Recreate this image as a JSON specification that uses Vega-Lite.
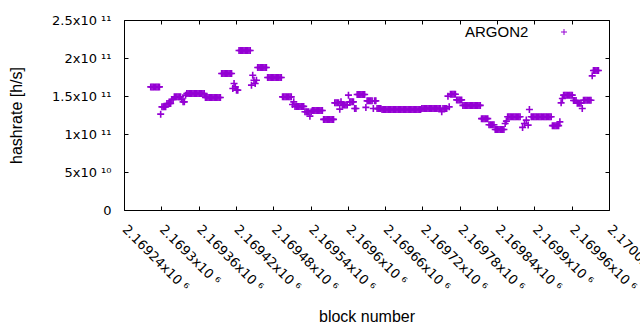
{
"$schema":"https://vega.github.io/schema/vega-lite/v6.json",
"width":485,"height":190,"autosize":"none",
"padding":{"left":124,"top":20,"right":31,"bottom":120},
"background":"white",
"config":{"font":"Liberation Sans","view":{"stroke":"black","strokeWidth":1},
"axis":{"grid":false,"domain":false,"tickColor":"black","tickSize":-4,"labelColor":"black","titleColor":"black","labelFont":"DejaVu Sans","labelFontSize":13,"titleFontSize":16,"titleFontWeight":"normal","labelOverlap":false,"labelBound":false,"labelFlush":false}},
"data":{"values":[
{"block":2169283,"hashrate":1.62e11},{"block":2169285,"hashrate":1.62e11},{"block":2169287,"hashrate":1.62e11},{"block":2169289,"hashrate":1.62e11},{"block":2169291,"hashrate":1.62e11},{"block":2169293,"hashrate":1.62e11},{"block":2169295,"hashrate":1.62e11},{"block":2169297,"hashrate":1.62e11},
{"block":2169299,"hashrate":1.261e11},
{"block":2169301,"hashrate":1.357e11},{"block":2169303,"hashrate":1.357e11},{"block":2169305,"hashrate":1.357e11},{"block":2169307,"hashrate":1.357e11},
{"block":2169309,"hashrate":1.402e11},{"block":2169311,"hashrate":1.402e11},{"block":2169313,"hashrate":1.402e11},{"block":2169315,"hashrate":1.402e11},
{"block":2169317,"hashrate":1.455e11},{"block":2169319,"hashrate":1.455e11},
{"block":2169321,"hashrate":1.489e11},{"block":2169323,"hashrate":1.489e11},{"block":2169325,"hashrate":1.489e11},{"block":2169327,"hashrate":1.489e11},{"block":2169329,"hashrate":1.489e11},{"block":2169331,"hashrate":1.489e11},
{"block":2169333,"hashrate":1.455e11},{"block":2169335,"hashrate":1.423e11},{"block":2169337,"hashrate":1.423e11},
{"block":2169339,"hashrate":1.511e11},{"block":2169341,"hashrate":1.533e11},
{"block":2169343,"hashrate":1.533e11},{"block":2169345,"hashrate":1.533e11},{"block":2169347,"hashrate":1.533e11},{"block":2169349,"hashrate":1.533e11},{"block":2169351,"hashrate":1.533e11},{"block":2169353,"hashrate":1.533e11},{"block":2169355,"hashrate":1.533e11},{"block":2169357,"hashrate":1.533e11},{"block":2169359,"hashrate":1.533e11},{"block":2169361,"hashrate":1.533e11},{"block":2169363,"hashrate":1.533e11},{"block":2169365,"hashrate":1.533e11},{"block":2169367,"hashrate":1.533e11},{"block":2169369,"hashrate":1.533e11},
{"block":2169371,"hashrate":1.481e11},{"block":2169373,"hashrate":1.481e11},{"block":2169375,"hashrate":1.481e11},{"block":2169377,"hashrate":1.481e11},{"block":2169379,"hashrate":1.481e11},{"block":2169381,"hashrate":1.481e11},{"block":2169383,"hashrate":1.481e11},{"block":2169385,"hashrate":1.481e11},{"block":2169387,"hashrate":1.481e11},{"block":2169389,"hashrate":1.481e11},{"block":2169391,"hashrate":1.481e11},{"block":2169393,"hashrate":1.481e11},{"block":2169395,"hashrate":1.481e11},
{"block":2169397,"hashrate":1.796e11},{"block":2169399,"hashrate":1.796e11},{"block":2169401,"hashrate":1.796e11},{"block":2169403,"hashrate":1.796e11},{"block":2169405,"hashrate":1.796e11},{"block":2169407,"hashrate":1.796e11},{"block":2169409,"hashrate":1.796e11},{"block":2169411,"hashrate":1.796e11},{"block":2169413,"hashrate":1.796e11},
{"block":2169415,"hashrate":1.599e11},{"block":2169417,"hashrate":1.665e11},{"block":2169419,"hashrate":1.62e11},{"block":2169421,"hashrate":1.577e11},{"block":2169423,"hashrate":1.577e11},
{"block":2169425,"hashrate":2.098e11},{"block":2169427,"hashrate":2.098e11},{"block":2169429,"hashrate":2.098e11},{"block":2169431,"hashrate":2.098e11},{"block":2169433,"hashrate":2.098e11},{"block":2169435,"hashrate":2.098e11},{"block":2169437,"hashrate":2.098e11},{"block":2169439,"hashrate":2.098e11},{"block":2169441,"hashrate":2.098e11},{"block":2169443,"hashrate":2.098e11},
{"block":2169445,"hashrate":1.643e11},{"block":2169447,"hashrate":1.774e11},{"block":2169449,"hashrate":1.708e11},{"block":2169451,"hashrate":1.665e11},{"block":2169453,"hashrate":1.708e11},
{"block":2169455,"hashrate":1.875e11},{"block":2169457,"hashrate":1.875e11},{"block":2169459,"hashrate":1.875e11},{"block":2169461,"hashrate":1.875e11},{"block":2169463,"hashrate":1.875e11},{"block":2169465,"hashrate":1.875e11},{"block":2169467,"hashrate":1.875e11},{"block":2169469,"hashrate":1.875e11},
{"block":2169471,"hashrate":1.744e11},{"block":2169473,"hashrate":1.744e11},{"block":2169475,"hashrate":1.744e11},{"block":2169477,"hashrate":1.744e11},{"block":2169479,"hashrate":1.744e11},{"block":2169481,"hashrate":1.744e11},{"block":2169483,"hashrate":1.744e11},{"block":2169485,"hashrate":1.744e11},{"block":2169487,"hashrate":1.744e11},{"block":2169489,"hashrate":1.744e11},{"block":2169491,"hashrate":1.744e11},{"block":2169493,"hashrate":1.744e11},
{"block":2169495,"hashrate":1.489e11},{"block":2169497,"hashrate":1.489e11},{"block":2169499,"hashrate":1.489e11},{"block":2169501,"hashrate":1.489e11},{"block":2169503,"hashrate":1.489e11},{"block":2169505,"hashrate":1.489e11},{"block":2169507,"hashrate":1.489e11},{"block":2169509,"hashrate":1.489e11},
{"block":2169511,"hashrate":1.389e11},{"block":2169513,"hashrate":1.423e11},
{"block":2169515,"hashrate":1.363e11},{"block":2169517,"hashrate":1.363e11},{"block":2169519,"hashrate":1.363e11},{"block":2169521,"hashrate":1.363e11},{"block":2169523,"hashrate":1.363e11},{"block":2169525,"hashrate":1.363e11},{"block":2169527,"hashrate":1.363e11},{"block":2169529,"hashrate":1.363e11},
{"block":2169531,"hashrate":1.292e11},{"block":2169533,"hashrate":1.292e11},{"block":2169535,"hashrate":1.292e11},{"block":2169537,"hashrate":1.292e11},{"block":2169539,"hashrate":1.235e11},{"block":2169541,"hashrate":1.292e11},
{"block":2169543,"hashrate":1.31e11},{"block":2169545,"hashrate":1.31e11},{"block":2169547,"hashrate":1.31e11},{"block":2169549,"hashrate":1.31e11},{"block":2169551,"hashrate":1.31e11},{"block":2169553,"hashrate":1.31e11},{"block":2169555,"hashrate":1.31e11},{"block":2169557,"hashrate":1.31e11},{"block":2169559,"hashrate":1.31e11},
{"block":2169561,"hashrate":1.192e11},{"block":2169563,"hashrate":1.192e11},{"block":2169565,"hashrate":1.192e11},{"block":2169567,"hashrate":1.192e11},{"block":2169569,"hashrate":1.192e11},{"block":2169571,"hashrate":1.192e11},{"block":2169573,"hashrate":1.192e11},{"block":2169575,"hashrate":1.192e11},{"block":2169577,"hashrate":1.192e11},
{"block":2169579,"hashrate":1.41e11},{"block":2169581,"hashrate":1.41e11},{"block":2169583,"hashrate":1.41e11},{"block":2169585,"hashrate":1.41e11},
{"block":2169587,"hashrate":1.327e11},{"block":2169589,"hashrate":1.423e11},
{"block":2169591,"hashrate":1.38e11},{"block":2169593,"hashrate":1.38e11},{"block":2169595,"hashrate":1.38e11},{"block":2169597,"hashrate":1.38e11},{"block":2169599,"hashrate":1.38e11},
{"block":2169601,"hashrate":1.511e11},
{"block":2169603,"hashrate":1.423e11},{"block":2169605,"hashrate":1.423e11},{"block":2169607,"hashrate":1.423e11},{"block":2169609,"hashrate":1.423e11},
{"block":2169611,"hashrate":1.336e11},{"block":2169613,"hashrate":1.336e11},
{"block":2169615,"hashrate":1.52e11},{"block":2169617,"hashrate":1.52e11},{"block":2169619,"hashrate":1.52e11},{"block":2169621,"hashrate":1.52e11},{"block":2169623,"hashrate":1.52e11},{"block":2169625,"hashrate":1.52e11},{"block":2169627,"hashrate":1.52e11},
{"block":2169629,"hashrate":1.35e11},
{"block":2169631,"hashrate":1.436e11},{"block":2169633,"hashrate":1.436e11},{"block":2169635,"hashrate":1.436e11},{"block":2169637,"hashrate":1.436e11},{"block":2169639,"hashrate":1.436e11},{"block":2169641,"hashrate":1.336e11},{"block":2169643,"hashrate":1.436e11},{"block":2169645,"hashrate":1.436e11},
{"block":2169647,"hashrate":1.334e11},{"block":2169649,"hashrate":1.334e11},{"block":2169651,"hashrate":1.334e11},{"block":2169653,"hashrate":1.334e11},
{"block":2169655,"hashrate":1.323e11},{"block":2169657,"hashrate":1.323e11},{"block":2169659,"hashrate":1.323e11},{"block":2169661,"hashrate":1.323e11},{"block":2169663,"hashrate":1.323e11},{"block":2169665,"hashrate":1.323e11},{"block":2169667,"hashrate":1.323e11},{"block":2169669,"hashrate":1.323e11},{"block":2169671,"hashrate":1.323e11},{"block":2169673,"hashrate":1.323e11},{"block":2169675,"hashrate":1.323e11},{"block":2169677,"hashrate":1.323e11},{"block":2169679,"hashrate":1.323e11},{"block":2169681,"hashrate":1.323e11},{"block":2169683,"hashrate":1.323e11},{"block":2169685,"hashrate":1.323e11},{"block":2169687,"hashrate":1.323e11},{"block":2169689,"hashrate":1.323e11},{"block":2169691,"hashrate":1.323e11},{"block":2169693,"hashrate":1.323e11},{"block":2169695,"hashrate":1.323e11},{"block":2169697,"hashrate":1.323e11},{"block":2169699,"hashrate":1.323e11},{"block":2169701,"hashrate":1.323e11},{"block":2169703,"hashrate":1.323e11},{"block":2169705,"hashrate":1.323e11},{"block":2169707,"hashrate":1.323e11},{"block":2169709,"hashrate":1.323e11},{"block":2169711,"hashrate":1.323e11},{"block":2169713,"hashrate":1.323e11},{"block":2169715,"hashrate":1.323e11},{"block":2169717,"hashrate":1.323e11},
{"block":2169719,"hashrate":1.336e11},{"block":2169721,"hashrate":1.336e11},{"block":2169723,"hashrate":1.336e11},{"block":2169725,"hashrate":1.336e11},{"block":2169727,"hashrate":1.336e11},{"block":2169729,"hashrate":1.336e11},{"block":2169731,"hashrate":1.336e11},{"block":2169733,"hashrate":1.336e11},{"block":2169735,"hashrate":1.336e11},{"block":2169737,"hashrate":1.336e11},{"block":2169739,"hashrate":1.336e11},{"block":2169741,"hashrate":1.336e11},{"block":2169743,"hashrate":1.336e11},{"block":2169745,"hashrate":1.336e11},{"block":2169747,"hashrate":1.336e11},{"block":2169749,"hashrate":1.336e11},
{"block":2169751,"hashrate":1.292e11},
{"block":2169753,"hashrate":1.336e11},{"block":2169755,"hashrate":1.336e11},{"block":2169757,"hashrate":1.336e11},{"block":2169759,"hashrate":1.336e11},
{"block":2169761,"hashrate":1.498e11},{"block":2169763,"hashrate":1.357e11},
{"block":2169765,"hashrate":1.524e11},{"block":2169767,"hashrate":1.524e11},{"block":2169769,"hashrate":1.524e11},{"block":2169771,"hashrate":1.524e11},{"block":2169773,"hashrate":1.524e11},
{"block":2169775,"hashrate":1.449e11},{"block":2169777,"hashrate":1.449e11},{"block":2169779,"hashrate":1.449e11},{"block":2169781,"hashrate":1.449e11},{"block":2169783,"hashrate":1.449e11},
{"block":2169785,"hashrate":1.376e11},{"block":2169787,"hashrate":1.376e11},{"block":2169789,"hashrate":1.376e11},{"block":2169791,"hashrate":1.376e11},{"block":2169793,"hashrate":1.376e11},{"block":2169795,"hashrate":1.376e11},{"block":2169797,"hashrate":1.376e11},{"block":2169799,"hashrate":1.376e11},{"block":2169801,"hashrate":1.376e11},{"block":2169803,"hashrate":1.376e11},{"block":2169805,"hashrate":1.376e11},{"block":2169807,"hashrate":1.376e11},{"block":2169809,"hashrate":1.376e11},{"block":2169811,"hashrate":1.376e11},{"block":2169813,"hashrate":1.376e11},
{"block":2169815,"hashrate":1.202e11},{"block":2169817,"hashrate":1.202e11},{"block":2169819,"hashrate":1.202e11},{"block":2169821,"hashrate":1.202e11},{"block":2169823,"hashrate":1.202e11},{"block":2169825,"hashrate":1.202e11},
{"block":2169827,"hashrate":1.121e11},{"block":2169829,"hashrate":1.121e11},{"block":2169831,"hashrate":1.121e11},{"block":2169833,"hashrate":1.121e11},{"block":2169835,"hashrate":1.121e11},
{"block":2169837,"hashrate":1.06e11},{"block":2169839,"hashrate":1.06e11},{"block":2169841,"hashrate":1.06e11},{"block":2169843,"hashrate":1.06e11},{"block":2169845,"hashrate":1.06e11},{"block":2169847,"hashrate":1.06e11},{"block":2169849,"hashrate":1.06e11},{"block":2169851,"hashrate":1.06e11},
{"block":2169853,"hashrate":1.139e11},{"block":2169855,"hashrate":1.169e11},
{"block":2169857,"hashrate":1.226e11},{"block":2169859,"hashrate":1.226e11},{"block":2169861,"hashrate":1.226e11},{"block":2169863,"hashrate":1.226e11},{"block":2169865,"hashrate":1.226e11},{"block":2169867,"hashrate":1.226e11},{"block":2169869,"hashrate":1.226e11},{"block":2169871,"hashrate":1.226e11},{"block":2169873,"hashrate":1.226e11},{"block":2169875,"hashrate":1.226e11},{"block":2169877,"hashrate":1.226e11},
{"block":2169881,"hashrate":1.087e11},{"block":2169884,"hashrate":1.139e11},{"block":2169887,"hashrate":1.183e11},{"block":2169890,"hashrate":1.117e11},{"block":2169892,"hashrate":1.323e11},
{"block":2169895,"hashrate":1.226e11},{"block":2169897,"hashrate":1.226e11},{"block":2169899,"hashrate":1.226e11},{"block":2169901,"hashrate":1.226e11},{"block":2169903,"hashrate":1.226e11},{"block":2169905,"hashrate":1.226e11},{"block":2169907,"hashrate":1.226e11},{"block":2169909,"hashrate":1.226e11},{"block":2169911,"hashrate":1.226e11},{"block":2169913,"hashrate":1.226e11},{"block":2169915,"hashrate":1.226e11},{"block":2169917,"hashrate":1.226e11},{"block":2169919,"hashrate":1.226e11},{"block":2169921,"hashrate":1.226e11},{"block":2169923,"hashrate":1.226e11},{"block":2169925,"hashrate":1.226e11},{"block":2169927,"hashrate":1.226e11},
{"block":2169929,"hashrate":1.11e11},{"block":2169931,"hashrate":1.11e11},{"block":2169933,"hashrate":1.11e11},{"block":2169935,"hashrate":1.11e11},{"block":2169937,"hashrate":1.11e11},{"block":2169939,"hashrate":1.11e11},
{"block":2169941,"hashrate":1.16e11},{"block":2169943,"hashrate":1.41e11},{"block":2169945,"hashrate":1.468e11},
{"block":2169947,"hashrate":1.511e11},{"block":2169949,"hashrate":1.511e11},{"block":2169951,"hashrate":1.511e11},{"block":2169953,"hashrate":1.511e11},{"block":2169955,"hashrate":1.511e11},{"block":2169957,"hashrate":1.511e11},{"block":2169959,"hashrate":1.511e11},{"block":2169961,"hashrate":1.511e11},
{"block":2169963,"hashrate":1.441e11},{"block":2169965,"hashrate":1.441e11},{"block":2169967,"hashrate":1.441e11},
{"block":2169969,"hashrate":1.406e11},{"block":2169971,"hashrate":1.406e11},{"block":2169973,"hashrate":1.406e11},{"block":2169975,"hashrate":1.406e11},
{"block":2169977,"hashrate":1.336e11},
{"block":2169979,"hashrate":1.445e11},{"block":2169981,"hashrate":1.445e11},{"block":2169983,"hashrate":1.445e11},{"block":2169985,"hashrate":1.445e11},{"block":2169987,"hashrate":1.445e11},{"block":2169989,"hashrate":1.445e11},{"block":2169991,"hashrate":1.445e11},
{"block":2169993,"hashrate":1.765e11},
{"block":2169995,"hashrate":1.836e11},{"block":2169997,"hashrate":1.836e11},{"block":2169999,"hashrate":1.836e11},{"block":2170001,"hashrate":1.836e11},{"block":2170003,"hashrate":1.836e11}
]},
"layer":[
{"mark":{"type":"point","shape":"M-1,0H1M0,-1V1","filled":false,"size":49,"strokeWidth":1.6,"opacity":1},
"encoding":{
"x":{"field":"block","type":"quantitative","scale":{"domain":[2169240,2170020],"nice":false,"zero":false},
"axis":{"values":[2169240,2169300,2169360,2169420,2169480,2169540,2169600,2169660,2169720,2169780,2169840,2169900,2169960,2170020],
"labelExpr":"format(datum.value/1e6,'.6~g')+'x10 ⁶'","labelAngle":45,"labelAlign":"left","labelBaseline":"middle","labelPadding":21,"title":"block number","titlePadding":15}},
"y":{"field":"hashrate","type":"quantitative","scale":{"domain":[0,2.5e11],"nice":false},
"axis":{"values":[0,5e10,1e11,1.5e11,2e11,2.5e11],
"labelExpr":"datum.value==0?'0':(datum.value<1e11?format(datum.value/1e10,'~g')+'x10 ¹⁰':format(datum.value/1e11,'~g')+'x10 ¹¹')","labelPadding":17,"title":"hashrate [h/s]","titlePadding":27}},
"color":{"datum":"ARGON2","type":"nominal","scale":{"range":["#9400d3"]},
"legend":{"orient":"none","legendX":341,"legendY":7,"title":"ARGON2","titleOrient":"left","titleFontSize":15,"titleFontWeight":"normal","titleColor":"black","titlePadding":30,"labelExpr":"''","symbolType":"M-1,0H1M0,-1V1","symbolSize":36,"symbolStrokeWidth":1,"symbolStrokeColor":"#9400d3","symbolFillColor":"transparent"}}}},
{"mark":{"type":"point","opacity":0},
"encoding":{
"x":{"field":"block","type":"quantitative","axis":{"orient":"top","labels":false,"title":null,"values":[2169240,2169300,2169360,2169420,2169480,2169540,2169600,2169660,2169720,2169780,2169840,2169900,2169960,2170020]}},
"y":{"field":"hashrate","type":"quantitative","axis":{"orient":"right","labels":false,"title":null,"values":[0,5e10,1e11,1.5e11,2e11,2.5e11]}}}}
],
"resolve":{"axis":{"x":"independent","y":"independent"}}
}
